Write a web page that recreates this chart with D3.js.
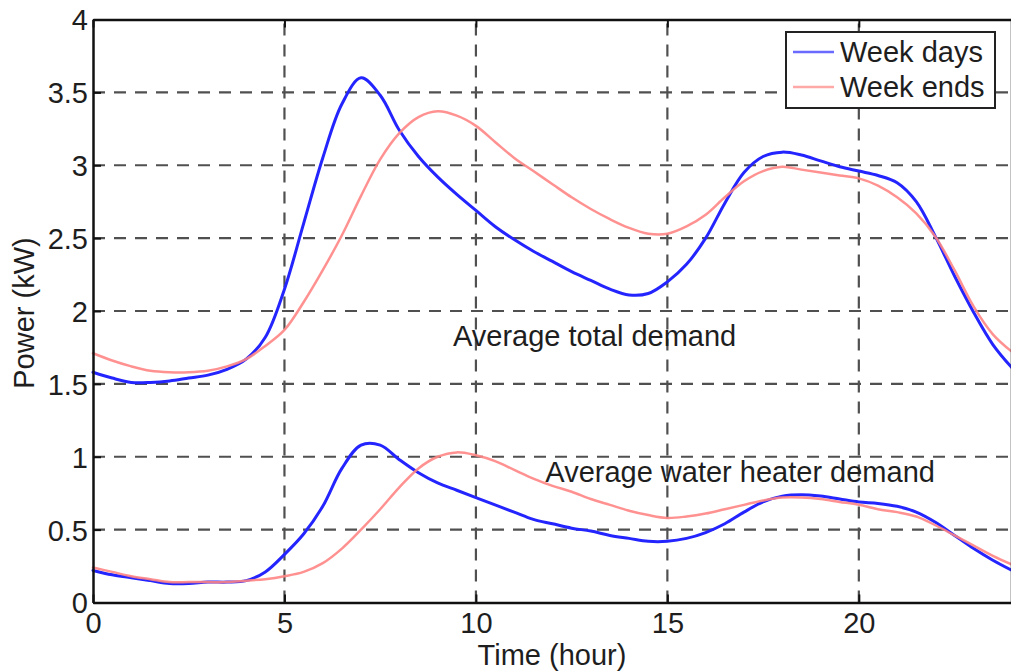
<!DOCTYPE html>
<html>
<head>
<meta charset="utf-8">
<script src="https://cdn.jsdelivr.net/npm/d3@7"></script>
<style>
  html, body { margin: 0; padding: 0; background: #fff; }
  svg { display: block; }
  text { font-family: "Liberation Sans", Arial, Helvetica, sans-serif; fill: #1e1e1e; }
</style>
</head>
<body>
<svg id="chart" width="1011" height="671"></svg>
<script>
// Hour of day (half-hour steps)
const hours = d3.range(0, 49).map(i => i * 0.5);

// Average total household demand (kW)
const totalWeekdays = [
  1.58, 1.54, 1.51, 1.51, 1.52, 1.54, 1.56, 1.60, 1.67, 1.82,
  2.15, 2.60, 3.05, 3.42, 3.60, 3.48, 3.24, 3.06, 2.92, 2.80,
  2.69, 2.58, 2.49, 2.41, 2.34, 2.27, 2.21, 2.15, 2.11, 2.12,
  2.20, 2.32, 2.50, 2.74, 2.95, 3.06, 3.09, 3.07, 3.03, 2.99,
  2.96, 2.93, 2.88, 2.75, 2.51, 2.24, 1.99, 1.77, 1.61
];
const totalWeekends = [
  1.71, 1.66, 1.62, 1.59, 1.58, 1.58, 1.59, 1.62, 1.67, 1.76,
  1.87, 2.06, 2.28, 2.52, 2.79, 3.04, 3.22, 3.33, 3.37, 3.34,
  3.27, 3.16, 3.05, 2.96, 2.87, 2.78, 2.70, 2.63, 2.57, 2.53,
  2.53, 2.58, 2.66, 2.78, 2.89, 2.96, 2.99, 2.97, 2.95, 2.93,
  2.91, 2.86, 2.78, 2.67, 2.51, 2.28, 2.03, 1.84, 1.72
];

// Average water heater demand (kW)
const heaterWeekdays = [
  0.22, 0.19, 0.17, 0.15, 0.13, 0.13, 0.14, 0.14, 0.15, 0.21,
  0.33, 0.47, 0.66, 0.92, 1.08, 1.08, 0.98, 0.89, 0.82, 0.77,
  0.72, 0.67, 0.62, 0.57, 0.54, 0.51, 0.49, 0.46, 0.44, 0.42,
  0.42, 0.44, 0.48, 0.54, 0.62, 0.69, 0.73, 0.74, 0.73, 0.71,
  0.69, 0.68, 0.66, 0.62, 0.55, 0.46, 0.37, 0.29, 0.22
];
const heaterWeekends = [
  0.24, 0.21, 0.18, 0.16, 0.14, 0.14, 0.14, 0.14, 0.15, 0.16,
  0.18, 0.21, 0.27, 0.37, 0.50, 0.64, 0.79, 0.92, 1.00, 1.03,
  1.01, 0.97, 0.91, 0.85, 0.80, 0.76, 0.71, 0.67, 0.63, 0.60,
  0.58, 0.59, 0.61, 0.64, 0.67, 0.70, 0.72, 0.72, 0.71, 0.69,
  0.67, 0.64, 0.62, 0.59, 0.53, 0.46, 0.39, 0.32, 0.26
];

const xTicks = [0, 5, 10, 15, 20];
const yTicks = [0, 0.5, 1, 1.5, 2, 2.5, 3, 3.5, 4];
const seriesNames = ["Week days", "Week ends"];
const annotations = [
  { text: "Average total demand", x: 13.1, y: 1.76 },
  { text: "Average water heater demand", x: 16.9, y: 0.83 }
];

const colors = { days: "#2424ff", ends: "#ff8585" };
const fontSize = 29;

const svg = d3.select("#chart");
const plotLeft = 93, plotRight = 1012, plotTop = 19.5, plotBottom = 602.5;

const x = d3.scaleLinear().domain([0, 24]).range([plotLeft, plotRight]);
const y = d3.scaleLinear().domain([0, 4]).range([plotBottom, plotTop]);

// dashed grid
const grid = svg.append("g").attr("stroke", "#505050").attr("stroke-width", 2.2)
  .attr("stroke-dasharray", "12,9").attr("fill", "none");
xTicks.filter(d => d > 0).forEach(d => {
  grid.append("line").attr("x1", x(d)).attr("x2", x(d)).attr("y1", plotBottom).attr("y2", plotTop);
});
yTicks.filter(d => d > 0 && d < 4).forEach(d => {
  grid.append("line").attr("x1", plotLeft).attr("x2", plotRight).attr("y1", y(d)).attr("y2", y(d));
});

// curves
const line = d3.line().x((d, i) => x(hours[i])).y(d => y(d)).curve(d3.curveCatmullRom.alpha(0.5));
const curves = svg.append("g").attr("fill", "none").attr("stroke-linejoin", "round").attr("stroke-linecap", "round");
[totalWeekdays, heaterWeekdays].forEach(s => {
  curves.append("path").datum(s).attr("d", line).attr("stroke", colors.days).attr("stroke-width", 3);
});
[totalWeekends, heaterWeekends].forEach(s => {
  curves.append("path").datum(s).attr("d", line).attr("stroke", colors.ends).attr("stroke-width", 2.5).attr("stroke-opacity", 0.9);
});

// axes (inward ticks, box on top)
const axisG = svg.append("g");
const xAxis = d3.axisBottom(x).tickValues(xTicks).tickSizeInner(-8).tickSizeOuter(0).tickPadding(10);
const yAxis = d3.axisLeft(y).tickValues(yTicks).tickFormat(d3.format("")).tickSizeInner(-8).tickSizeOuter(0).tickPadding(5);
const gx = axisG.append("g").attr("transform", `translate(0,${plotBottom})`).call(xAxis);
const gy = axisG.append("g").attr("transform", `translate(${plotLeft},0)`).call(yAxis);
const gt = axisG.append("g").attr("transform", `translate(0,${plotTop})`)
  .call(d3.axisTop(x).tickValues(xTicks).tickSizeInner(-8).tickSizeOuter(0).tickFormat(""));
[gx, gy, gt].forEach(g => {
  g.select(".domain").attr("stroke", "#111").attr("stroke-width", 2.5);
  g.selectAll(".tick line").attr("stroke", "#111").attr("stroke-width", 2);
  g.selectAll(".tick text").attr("font-size", fontSize).attr("fill", "#1e1e1e")
    .style("font-family", '"Liberation Sans", Arial, sans-serif');
});
gy.selectAll(".tick text").attr("dy", "0.36em");
gx.selectAll(".tick text").attr("dy", "0.71em");
svg.append("line").attr("x1", plotRight).attr("x2", plotRight).attr("y1", plotTop).attr("y2", plotBottom)
  .attr("stroke", "#111").attr("stroke-width", 2.5);

// axis titles
svg.append("text").attr("x", 552).attr("y", 665).attr("text-anchor", "middle")
  .attr("font-size", fontSize).text("Time (hour)");
svg.append("text").attr("transform", "translate(34,313) rotate(-90)").attr("text-anchor", "middle")
  .attr("font-size", fontSize).text("Power (kW)");

// curve annotations
annotations.forEach(a => {
  svg.append("text").attr("x", x(a.x)).attr("y", y(a.y)).attr("text-anchor", "middle")
    .attr("font-size", fontSize).text(a.text);
});

// legend
const lg = svg.append("g");
lg.append("rect").attr("x", 786).attr("y", 32).attr("width", 209).attr("height", 76)
  .attr("fill", "#fff").attr("stroke", "#222").attr("stroke-width", 2);
const legendColors = ["#6a6aff", "#ffa8a8"];
seriesNames.forEach((name, i) => {
  const ly = 52 + i * 35;
  lg.append("line").attr("x1", 793).attr("x2", 834).attr("y1", ly).attr("y2", ly)
    .attr("stroke", legendColors[i]).attr("stroke-width", 2.5);
  lg.append("text").attr("x", 840).attr("y", ly).attr("dy", "0.35em")
    .attr("font-size", fontSize).text(name);
});
</script>
</body>
</html>
